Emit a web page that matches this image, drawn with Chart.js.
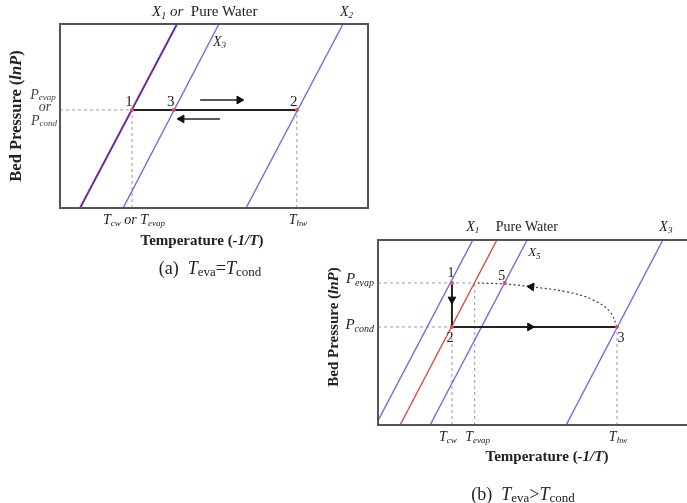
<!DOCTYPE html>
<html>
<head>
<meta charset="utf-8">
<script src="https://cdn.jsdelivr.net/npm/chart.js@4.4.1/dist/chart.umd.min.js"></script>
<style>
html, body { margin: 0; padding: 0; background: #fff; overflow: hidden; width: 687px; height: 503px; }
.wrap { position: absolute; }
#wa { left: 0; top: 0; width: 380px; height: 290px; }
#wb { left: 320px; top: 200px; width: 380px; height: 303px; }
</style>
</head>
<body>
<div class="wrap" id="wa"><canvas id="ca"></canvas></div>
<div class="wrap" id="wb"><canvas id="cb"></canvas></div>
<script>
// ---- panel (a): Teva = Tcond ----
const isoA = ['X1', 'X3', 'X2'];
const isoA_bottom = [0.65, 2.05, 6.04];
const isoA_top = [3.80, 5.16, 9.19];
const pA = 5.33;                       // Pevap or Pcond
const stateA = ['1', '3', '2'];
const stateA_x = [2.34, 3.69, 7.69];
const tickA_x = [2.34, 7.69];
const arrowA_y = [5.87, 4.84];
const arrowA_from = [4.55, 5.19];
const arrowA_to = [5.94, 3.83];

// ---- panel (b): Teva > Tcond ----
const isoB = ['X1', 'Pure Water', 'X5', 'X3'];
const isoB_bottom = [-0.07, 0.71, 1.67, 6.03];
const isoB_top = [3.04, 3.81, 4.78, 9.13];
const pEvapB = 7.68;
const pCondB = 5.30;
const stateB = ['1', '2', '5', '3'];
const stateB_x = [2.37, 2.37, 4.06, 7.66];
const stateB_y = [7.68, 5.30, 7.68, 5.30];
const tickB_x = [2.37, 3.10, 7.66];
const returnB_x = [7.66, 7.44, 6.89, 6.06, 4.97, 4.06, 3.10];
const returnB_y = [5.30, 6.11, 6.76, 7.19, 7.46, 7.62, 7.68];

const SERIF = '"Liberation Serif", "DejaVu Serif", serif';
const BLUE = '#6e6ee2';
const GREY = '#9a9a9a';

function f(size, style) { return (style || '') + ' ' + size + 'px ' + SERIF; }

// draw a run of text pieces: [text, font, dy]
function rich(ctx, x, y, segs, align) {
    let w = 0;
    segs.forEach(s => { ctx.font = s[1]; w += ctx.measureText(s[0]).width; });
    let cx = align === 'left' ? x : (align === 'right' ? x - w : x - w / 2);
    ctx.textAlign = 'left';
    ctx.textBaseline = 'middle';
    segs.forEach(s => {
        ctx.font = s[1];
        ctx.fillText(s[0], cx, y + (s[2] || 0));
        cx += ctx.measureText(s[0]).width;
    });
}

function seg(x1, y1, x2, y2, color, width, dash, order) {
    return {
        data: [{x: x1, y: y1}, {x: x2, y: y2}],
        showLine: true, borderColor: color, borderWidth: width,
        borderDash: dash || [], pointRadius: 0, order: order
    };
}

function head(x, y, rot) {
    return {
        data: [{x: x, y: y}], pointStyle: 'triangle', pointRadius: 4.5,
        rotation: rot, backgroundColor: '#111', borderColor: '#111', borderWidth: 1, order: 0
    };
}

function dots(xs, ys) {
    return {
        data: xs.map((x, i) => ({x: x, y: ys[i]})),
        pointRadius: 2, backgroundColor: '#e05050', borderWidth: 0, order: 1
    };
}

function makeChart(id, padding, datasets, decorate) {
    return new Chart(document.getElementById(id), {
        type: 'scatter',
        data: { datasets: datasets },
        options: {
            responsive: true, maintainAspectRatio: false, animation: false,
            layout: { padding: padding },
            plugins: { legend: { display: false }, tooltip: { enabled: false } },
            scales: {
                x: { type: 'linear', min: 0, max: 10, display: false },
                y: { type: 'linear', min: 0, max: 10, display: false }
            }
        },
        plugins: [{
            id: 'decor',
            afterDraw(chart) {
                const ctx = chart.ctx, a = chart.chartArea;
                ctx.save();
                ctx.strokeStyle = '#555';
                ctx.lineWidth = 2;
                ctx.strokeRect(a.left, a.top, a.right - a.left, a.bottom - a.top);
                ctx.fillStyle = '#222';
                const px = v => chart.scales.x.getPixelForValue(v);
                const py = v => chart.scales.y.getPixelForValue(v);
                decorate(ctx, a, px, py);
                ctx.restore();
            }
        }]
    });
}

// ---------- chart (a) ----------
const dsA = [];
isoA.forEach((n, i) => {
    dsA.push(seg(isoA_bottom[i], 0, isoA_top[i], 10, i === 0 ? '#6a2ca0' : BLUE, i === 0 ? 2 : 1.4, null, 4));
});
dsA.push(seg(0, pA, stateA_x[0], pA, GREY, 1, [3, 3], 5));
tickA_x.forEach(x => dsA.push(seg(x, 0, x, pA, GREY, 1, [3, 3], 5)));
dsA.push(seg(stateA_x[0], pA, stateA_x[2], pA, '#222', 2, null, 3));
arrowA_y.forEach((y, i) => {
    dsA.push(seg(arrowA_from[i], y, arrowA_to[i], y, '#222', 1.6, null, 2));
    const back = arrowA_to[i] > arrowA_from[i] ? -0.12 : 0.12;
    dsA.push(head(arrowA_to[i] + back, y, arrowA_to[i] > arrowA_from[i] ? 90 : 270));
});
dsA.push(dots(stateA_x, stateA_x.map(() => pA)));

makeChart('ca', {left: 60, top: 24, right: 12, bottom: 82}, dsA, (ctx, a, px, py) => {
    // isostere labels
    rich(ctx, px(isoA_top[0]) - 25, a.top - 12, [
        ['X', f(15, 'italic')], ['1', f(10, 'italic'), 4], [' or ', f(15, 'italic')], [' Pure Water', f(15)]
    ], 'left');
    rich(ctx, px(isoA_top[2]) - 3, a.top - 12, [['X', f(14, 'italic')], ['2', f(9, 'italic'), 4]], 'left');
    rich(ctx, px(isoA_top[1]) - 6, a.top + 18, [['X', f(14, 'italic')], ['3', f(9, 'italic'), 4]], 'left');
    // state numbers
    stateA.forEach((s, i) => rich(ctx, px(stateA_x[i]) - 3, py(pA) - 8, [[s, f(15)]], 'center'));
    // pressure label
    ctx.fillStyle = '#444';
    rich(ctx, a.left - 17, py(pA) - 15, [['P', f(14, 'italic')], ['evap', f(9, 'italic'), 3]], 'center');
    rich(ctx, a.left - 15, py(pA) - 3, [['or', f(14, 'italic')]], 'center');
    rich(ctx, a.left - 16, py(pA) + 11, [['P', f(14, 'italic')], ['cond', f(9, 'italic'), 3]], 'center');
    ctx.fillStyle = '#222';
    // tick labels
    rich(ctx, px(tickA_x[0]) + 2, a.bottom + 12, [
        ['T', f(14, 'italic')], ['cw', f(9, 'italic'), 4], [' or ', f(14, 'italic')],
        ['T', f(14, 'italic')], ['evap', f(9, 'italic'), 4]
    ], 'center');
    rich(ctx, px(tickA_x[1]) + 1, a.bottom + 12, [['T', f(14, 'italic')], ['hw', f(9, 'italic'), 4]], 'center');
    // axis titles
    rich(ctx, (a.left + a.right) / 2 - 12, a.bottom + 33, [
        ['Temperature (', f(15, 'bold')], ['-1/T', f(15, 'bold italic')], [')', f(15, 'bold')]
    ], 'center');
    ctx.save();
    ctx.translate(17, 116);
    ctx.rotate(-Math.PI / 2);
    rich(ctx, 0, 0, [['Bed Pressure (', f(16.5, 'bold')], ['lnP', f(16.5, 'bold italic')], [')', f(16.5, 'bold')]], 'center');
    ctx.restore();
    // caption
    rich(ctx, 210, a.bottom + 61, [
        ['(a)  ', f(18)], ['T', f(18, 'italic')], ['eva', f(13), 4], ['=', f(18)],
        ['T', f(18, 'italic')], ['cond', f(13), 4]
    ], 'center');
});

// ---------- chart (b) ----------
const dsB = [];
isoB.forEach((n, i) => {
    dsB.push(seg(isoB_bottom[i], 0, isoB_top[i], 10, i === 1 ? '#e04848' : BLUE, 1.4, null, 4));
});
dsB.push(seg(0, pEvapB, tickB_x[1], pEvapB, GREY, 1, [3, 3], 5));
dsB.push(seg(0, pCondB, stateB_x[1], pCondB, GREY, 1, [3, 3], 5));
dsB.push(seg(tickB_x[0], 0, tickB_x[0], pCondB, GREY, 1, [3, 3], 5));
dsB.push(seg(tickB_x[1], 0, tickB_x[1], pEvapB, GREY, 1, [3, 3], 5));
dsB.push(seg(tickB_x[2], 0, tickB_x[2], pCondB, GREY, 1, [3, 3], 5));
dsB.push(seg(stateB_x[0], pEvapB, stateB_x[1], pCondB, '#222', 2, null, 3));
dsB.push(seg(stateB_x[1], pCondB, stateB_x[3], pCondB, '#222', 2, null, 3));
dsB.push({
    data: returnB_x.map((x, i) => ({x: x, y: returnB_y[i]})),
    showLine: true, tension: 0.4, borderColor: '#444', borderWidth: 1.3,
    borderDash: [2, 2.5], pointRadius: 0, order: 3
});
dsB.push(head(stateB_x[0], (pEvapB + pCondB) / 2 + 0.3, 180));
dsB.push(head(4.87, pCondB, 90));
dsB.push(head(4.92, 7.47, 275));
dsB.push(dots(stateB_x, stateB_y));

makeChart('cb', {left: 58, top: 40, right: 10, bottom: 78}, dsB, (ctx, a, px, py) => {
    rich(ctx, px(isoB_top[0]), a.top - 13, [['X', f(14, 'italic')], ['1', f(9, 'italic'), 4]], 'center');
    rich(ctx, px(isoB_top[1]) + 30, a.top - 13, [['Pure Water', f(14)]], 'center');
    rich(ctx, px(isoB_top[3]) + 3, a.top - 13, [['X', f(14, 'italic')], ['3', f(9, 'italic'), 4]], 'center');
    rich(ctx, px(isoB_top[2]) + 1, a.top + 13, [['X', f(13, 'italic')], ['5', f(9, 'italic'), 4]], 'left');
    // state numbers
    rich(ctx, px(stateB_x[0]) - 1, py(stateB_y[0]) - 10, [['1', f(14)]], 'center');
    rich(ctx, px(stateB_x[1]) - 2, py(stateB_y[1]) + 11, [['2', f(14)]], 'center');
    rich(ctx, px(stateB_x[2]) - 3, py(stateB_y[2]) - 7, [['5', f(14)]], 'center');
    rich(ctx, px(stateB_x[3]) + 4, py(stateB_y[3]) + 11, [['3', f(14)]], 'center');
    // pressures
    rich(ctx, a.left - 4, py(pEvapB) - 4, [['P', f(15, 'italic')], ['evap', f(10, 'italic'), 4]], 'right');
    rich(ctx, a.left - 4, py(pCondB) - 2, [['P', f(15, 'italic')], ['cond', f(10, 'italic'), 4]], 'right');
    // ticks
    rich(ctx, px(tickB_x[0]) - 4, a.bottom + 12, [['T', f(14, 'italic')], ['cw', f(9, 'italic'), 4]], 'center');
    rich(ctx, px(tickB_x[1]) + 3, a.bottom + 12, [['T', f(14, 'italic')], ['evap', f(9, 'italic'), 4]], 'center');
    rich(ctx, px(tickB_x[2]) + 1, a.bottom + 12, [['T', f(14, 'italic')], ['hw', f(9, 'italic'), 4]], 'center');
    // titles
    rich(ctx, 227, a.bottom + 32, [
        ['Temperature (', f(15, 'bold')], ['-1/T', f(15, 'bold italic')], [')', f(15, 'bold')]
    ], 'center');
    ctx.save();
    ctx.translate(14, 127);
    ctx.rotate(-Math.PI / 2);
    rich(ctx, 0, 0, [['Bed Pressure (', f(15, 'bold')], ['lnP', f(15, 'bold italic')], [')', f(15, 'bold')]], 'center');
    ctx.restore();
    rich(ctx, 203, a.bottom + 70, [
        ['(b)  ', f(18)], ['T', f(18, 'italic')], ['eva', f(13), 4], ['>', f(18)],
        ['T', f(18, 'italic')], ['cond', f(13), 4]
    ], 'center');
});
</script>
</body>
</html>
